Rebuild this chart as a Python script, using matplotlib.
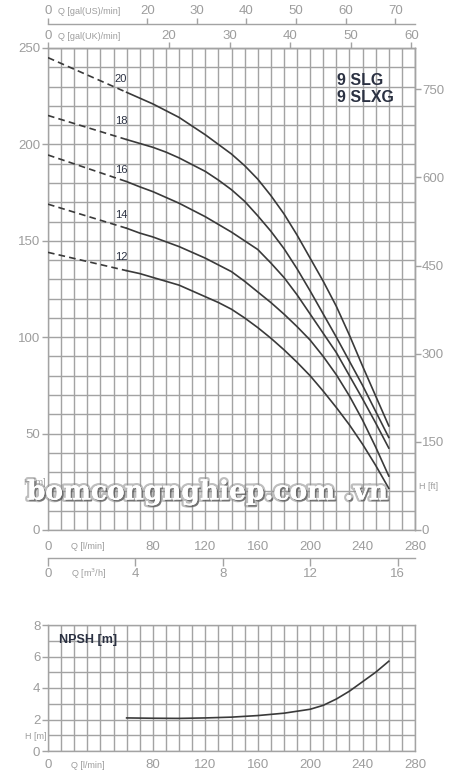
import numpy as np
import matplotlib
matplotlib.use("Agg")
import matplotlib.pyplot as plt
from matplotlib.ticker import FixedLocator, MultipleLocator
import matplotlib.patheffects as pe

plt.rcParams['font.family'] = ['Liberation Sans', 'DejaVu Sans']

# ---------------- data ----------------
stages = ["20", "18", "16", "14", "12"]
q_dash = [0, 60]
h_dash = {
    "20": [245, 227],
    "18": [215, 202.5],
    "16": [194.5, 180.7],
    "14": [169, 156.5],
    "12": [144, 134.5],
}
q_curve = [60, 70, 80, 90, 100, 110, 120, 130, 140, 150, 160,
           170, 180, 190, 200, 210, 220, 230, 240, 250, 260]
h_curve = {
    "20": [227, 224, 221, 217.5, 214, 209.5, 205, 200, 195, 189, 182,
           173.5, 164, 153, 141, 129, 116, 101, 85, 69.5, 54],
    "18": [202.5, 200.5, 198.5, 196, 193, 189.5, 186, 181.5, 176.5, 170.5, 163,
           155, 146, 135.5, 124, 112, 100, 87.5, 75, 61.5, 48],
    "16": [180.7, 178, 175.5, 172.5, 169.5, 166, 162.5, 158.5, 154.5, 150, 145.5,
           138.5, 131, 122, 112, 102, 92, 80, 68, 55.5, 42.5],
    "14": [156.5, 154, 152, 149.5, 147, 144, 141, 137.5, 134, 129, 123.5,
           118, 112, 105.5, 98.5, 90, 80.5, 69.5, 57, 43, 28],
    "12": [134.5, 133, 131, 129, 127, 124, 121, 118, 114.5, 110, 105,
           99.5, 93.5, 87, 80, 72, 63.5, 54.5, 44.5, 33.5, 21.6],
}
label_q = 51
label_h = {"20": 233.7, "18": 212.1, "16": 186.7, "14": 163.4, "12": 141.8}

q_npsh = [60, 80, 100, 120, 140, 160, 180, 200, 210, 220, 230, 240, 250, 260]
h_npsh = [2.1, 2.08, 2.07, 2.1, 2.15, 2.25, 2.4, 2.65, 2.9, 3.3, 3.8, 4.4, 5.0, 5.7]

x_labels_lpm = [0, 80, 120, 160, 200, 240, 280]
us_ticks = [0, 20, 30, 40, 50, 60, 70]
uk_ticks = [0, 20, 30, 40, 50, 60]
m3h_ticks = [0, 4, 8, 12, 16]
m_ticks = [0, 50, 100, 150, 200, 250]
ft_ticks = [0, 150, 300, 450, 600, 750]
npsh_ticks = [0, 2, 4, 6, 8]

L_PER_USGAL = 3.785
L_PER_UKGAL = 4.62
M_PER_FT = 0.3048

# ---------------- style ----------------
GRID = '#a3a3a3'
TXT = '#9d9d9d'
CURVE = '#3a3a3a'
DARK = '#2b3142'
TICKFS = 9.5
W, H = 450, 781

fig = plt.figure(figsize=(W / 100, H / 100), dpi=100)
fig.patch.set_facecolor('white')


def style_axes(ax):
    for s in ax.spines.values():
        s.set_color(GRID)
        s.set_linewidth(1.0)


# ---------------- main chart ----------------
ax = fig.add_axes([48 / W, 1 - 530 / H, 367 / W, 482 / H])
ax.set_xlim(0, 280)
ax.set_ylim(0, 250)
style_axes(ax)
ax.xaxis.set_major_locator(FixedLocator(x_labels_lpm))
ax.xaxis.set_minor_locator(MultipleLocator(10))
ax.yaxis.set_major_locator(FixedLocator(m_ticks))
ax.yaxis.set_minor_locator(MultipleLocator(10))
ax.grid(which='both', color=GRID, lw=1.0)
ax.set_axisbelow(True)
ax.tick_params(axis='x', which='both', length=0, pad=8, labelsize=TICKFS, labelcolor=TXT)
ax.tick_params(axis='y', which='major', length=4, width=1, color=GRID, pad=1.5,
               labelsize=TICKFS, labelcolor=TXT)
ax.tick_params(axis='y', which='minor', length=0)

for s in stages:
    ax.plot(q_dash, h_dash[s], color=CURVE, lw=1.2, ls=(0, (4, 2.5)), zorder=3)
    ax.plot(q_curve, h_curve[s], color=CURVE, lw=1.2, zorder=3,
            solid_joinstyle='round')
    ax.text(label_q, label_h[s], s, color=DARK, fontsize=8, ha='left',
            va='center', zorder=4)

ax.text(220.2, 233.4, "9 SLG", color=DARK, fontsize=11.5, fontweight='bold',
        ha='left', va='center')
ax.text(220.2, 224.4, "9 SLXG", color=DARK, fontsize=11.5, fontweight='bold',
        ha='left', va='center')

ax.text(17.5, -8.3, "Q [l/min]", color=TXT, fontsize=6.5, ha='left', va='center',
        clip_on=False)
ax.text(-0.065, 24.4, "H [m]", color=TXT, fontsize=6.5, ha='left', va='center',
        transform=ax.get_yaxis_transform(), clip_on=False)
ax.text(1.011, 22.5, "H [ft]", color=TXT, fontsize=6.5, ha='left', va='center',
        transform=ax.get_yaxis_transform(), clip_on=False)

# right axis in feet
secy = ax.secondary_yaxis('right', functions=(lambda m: m / M_PER_FT,
                                              lambda f: f * M_PER_FT))
secy.set_yticks(ft_ticks)
secy.tick_params(length=4, width=1, color=GRID, pad=1, labelsize=TICKFS, labelcolor=TXT)
style_axes(secy)

# top axis: UK gallons (on top spine)
sec_uk = ax.secondary_xaxis('top', functions=(lambda x: x / L_PER_UKGAL,
                                              lambda g: g * L_PER_UKGAL))
sec_uk.set_xticks(uk_ticks)
sec_uk.tick_params(length=4.5, width=1, color=GRID, pad=0, labelsize=TICKFS, labelcolor=TXT)
style_axes(sec_uk)
ax.text(7.5, 1.023, "Q [gal(UK)/min]", color=TXT, fontsize=6.5, ha='left',
        va='center', transform=ax.get_xaxis_transform(), clip_on=False)

# top axis: US gallons
sec_us = ax.secondary_xaxis(1 + 24 / 482, functions=(lambda x: x / L_PER_USGAL,
                                                      lambda g: g * L_PER_USGAL))
sec_us.set_xticks(us_ticks)
sec_us.tick_params(length=4.5, width=1, color=GRID, pad=0.5, labelsize=TICKFS, labelcolor=TXT)
style_axes(sec_us)
ax.text(7.5, 1 + 36 / 482, "Q [gal(US)/min]", color=TXT, fontsize=6.5, ha='left',
        va='center', transform=ax.get_xaxis_transform(), clip_on=False)

# bottom axis: m3/h
sec_m3 = ax.secondary_xaxis(-28 / 482, functions=(lambda x: x * 0.06,
                                                   lambda v: v / 0.06))
sec_m3.set_xticks(m3h_ticks)
sec_m3.tick_params(length=5.5, width=1, color=GRID, pad=1.5, labelsize=TICKFS, labelcolor=TXT)
style_axes(sec_m3)
ax.text(17.5, -44 / 482, "Q [m$^3$/h]", color=TXT, fontsize=6.5, ha='left',
        va='center', transform=ax.get_xaxis_transform(), clip_on=False)

# ---------------- NPSH chart ----------------
ax2 = fig.add_axes([48 / W, 1 - 751 / H, 367 / W, 126 / H])
ax2.set_xlim(0, 280)
ax2.set_ylim(0, 8)
style_axes(ax2)
ax2.xaxis.set_major_locator(FixedLocator(x_labels_lpm))
ax2.xaxis.set_minor_locator(MultipleLocator(10))
ax2.yaxis.set_major_locator(FixedLocator(npsh_ticks))
ax2.yaxis.set_minor_locator(MultipleLocator(1))
ax2.grid(which='both', color=GRID, lw=1.0)
ax2.set_axisbelow(True)
ax2.tick_params(axis='x', which='both', length=0, pad=6, labelsize=TICKFS, labelcolor=TXT)
ax2.tick_params(axis='y', which='major', length=4, width=1, color=GRID, pad=1.5,
                labelsize=TICKFS, labelcolor=TXT)
ax2.tick_params(axis='y', which='minor', length=0)
ax2.plot(q_npsh, h_npsh, color=CURVE, lw=1.2, zorder=3)
ax2.text(8.4, 7.05, "NPSH [m]", color=DARK, fontsize=9, fontweight='bold',
         ha='left', va='center')
ax2.text(17.5, -0.9, "Q [l/min]", color=TXT, fontsize=6.5, ha='left', va='center',
         clip_on=False)
ax2.text(-0.0627, 0.9, "H [m]", color=TXT, fontsize=6.5, ha='left', va='center',
         transform=ax2.get_yaxis_transform(), clip_on=False)

# ---------------- watermark ----------------
fig.text(207.5 / W, 1 - 492 / H, "bomcongnghiep.com .vn", fontsize=19,
         fontweight='bold', family=['DejaVu Serif'], color='white',
         ha='center', va='center', zorder=10,
         path_effects=[pe.withStroke(linewidth=3.5, foreground='#8a8a8a', alpha=0.55),
                       pe.withSimplePatchShadow(offset=(1.2, -1.2), shadow_rgbFace='#444444', alpha=0.6),
                       pe.Normal()])

fig.savefig("out.png", dpi=100)
